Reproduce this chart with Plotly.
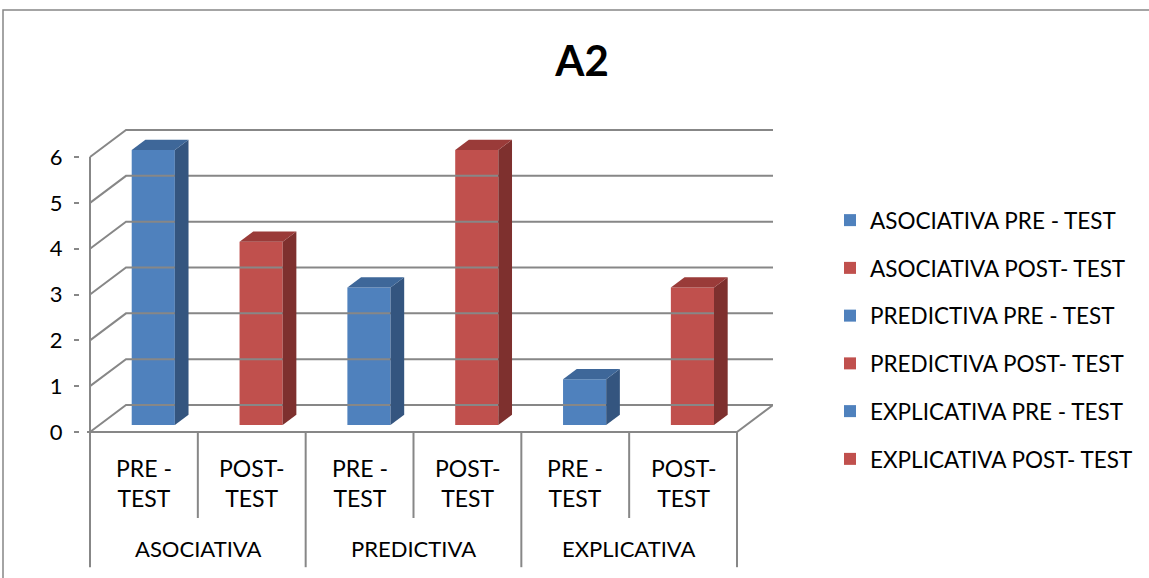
import plotly.graph_objects as go

# ---------------- data ----------------
groups = ["ASOCIATIVA", "PREDICTIVA", "EXPLICATIVA"]
phases = ["PRE -<br>TEST", "POST-<br>TEST"]
series_names = [
    "ASOCIATIVA PRE - TEST",
    "ASOCIATIVA POST- TEST",
    "PREDICTIVA PRE - TEST",
    "PREDICTIVA POST- TEST",
    "EXPLICATIVA PRE - TEST",
    "EXPLICATIVA POST- TEST",
]
values = [6, 4, 3, 6, 1, 3]
y_ticks = [0, 1, 2, 3, 4, 5, 6]
title_text = "A2"

# ---------------- style ----------------
FONT = "Lato"
GRID = "#878787"
front_cols = ["#4F81BD", "#C0504D"]
top_cols = ["#3E6799", "#9A3B39"]
side_cols = ["#34557F", "#7E302E"]

# pseudo-3D projection (depth offsets in data units)
DX = 36 / 107.8
DY = 27 / 45.83
F1, F2 = 0.26, 0.64
BW = 0.4

W, H = 1149, 578
L, R, T, B = 80, 376, 120, 6
xmin, xmax = -10 / 107.8, 6 + DX
ymin, ymax = -(572 - 432) / 45.83, (432 - 120) / 45.83

fig = go.Figure()

def line(xs, ys, width=2):
    fig.add_trace(go.Scatter(x=xs, y=ys, mode="lines", line=dict(color=GRID, width=width),
                             showlegend=False, hoverinfo="skip"))

n = len(values)
# back wall gridlines + left-side diagonals
for v in y_ticks:
    line([0, DX, n + DX], [v, v + DY, v + DY])
# floor front edge and right diagonal
line([-3 / 107.8, n, n + DX], [0, 0, DY])
# front vertical axis line, extended down as table border
line([0, 0], [max(y_ticks), -2.95])
# category table separators
for k in range(1, n + 1):
    bottom = -2.95 if k % 2 == 0 else -1.877
    line([k, k], [0, bottom])

# side and top faces of bars
ddx, ddy = (F2 - F1) * DX, (F2 - F1) * DY
for i, v in enumerate(values):
    c = i + 0.5 + F1 * DX
    lft, rgt = c - BW / 2, c + BW / 2
    bot, top = F1 * DY, v + F1 * DY
    ci = i % 2
    fig.add_trace(go.Scatter(
        x=[rgt, rgt + ddx, rgt + ddx, rgt, rgt], y=[bot, bot + ddy, top + ddy, top, bot],
        fill="toself", fillcolor=side_cols[ci], mode="lines", line=dict(width=0, color=side_cols[ci]),
        showlegend=False, hoverinfo="skip"))
    fig.add_trace(go.Scatter(
        x=[lft, rgt, rgt + ddx, lft + ddx, lft], y=[top, top, top + ddy, top + ddy, top],
        fill="toself", fillcolor=top_cols[ci], mode="lines", line=dict(width=0, color=top_cols[ci]),
        showlegend=False, hoverinfo="skip"))

# front faces (legend series)
for i, (name, v) in enumerate(zip(series_names, values)):
    fig.add_trace(go.Bar(
        x=[i + 0.5 + F1 * DX], y=[v], base=[F1 * DY], width=[BW], name=name,
        marker=dict(color=front_cols[i % 2], line=dict(width=0)), legendgroup=name))

# category labels
for i in range(n):
    fig.add_annotation(x=i + 0.5, y=-1.113, xref="x", yref="y", text=phases[i % 2],
                       showarrow=False, font=dict(family=FONT, size=23, color="black"))
for g, name in enumerate(groups):
    fig.add_annotation(x=2 * g + 1, y=-2.55, xref="x", yref="y", text=name,
                       showarrow=False, font=dict(family=FONT, size=22, color="black"))

# outer chart border
fig.add_shape(type="rect", xref="paper", yref="paper",
              x0=(3 - L) / (W - L - R), x1=1.6, y0=-0.5, y1=(572 - 10) / (H - T - B),
              line=dict(color=GRID, width=1.5), fillcolor="rgba(0,0,0,0)", layer="below")

fig.update_layout(
    width=W, height=H,
    margin=dict(l=L, r=R, t=T, b=B),
    paper_bgcolor="white", plot_bgcolor="white",
    barmode="overlay",
    title=dict(text="<b>" + title_text + "</b>", x=582 / W, xanchor="center", xref="container",
               y=1 - 61 / H, yanchor="middle", yref="container",
               font=dict(family=FONT, size=42, color="black")),
    xaxis=dict(range=[xmin, xmax], visible=False, fixedrange=True, automargin=False),
    yaxis=dict(range=[ymin, ymax], tickvals=y_ticks, ticktext=[str(t) for t in y_ticks],
               ticks="outside", ticklen=5, tickwidth=2, tickcolor=GRID, automargin=False,
               showgrid=False, zeroline=False, showline=False, ticklabelstandoff=7,
               tickfont=dict(family=FONT, size=22, color="black"), fixedrange=True),
    legend=dict(x=(830 - L) / (W - L - R), xanchor="left", y=(572 - 199) / (H - T - B), yanchor="top",
                font=dict(family=FONT, size=22.5, color="black"), tracegroupgap=15.5,
                bgcolor="rgba(0,0,0,0)", itemclick=False, itemdoubleclick=False),
    showlegend=True,
)

fig.write_html("out.html", post_script="document.body.style.margin='0px';",
               config={"displayModeBar": False})
